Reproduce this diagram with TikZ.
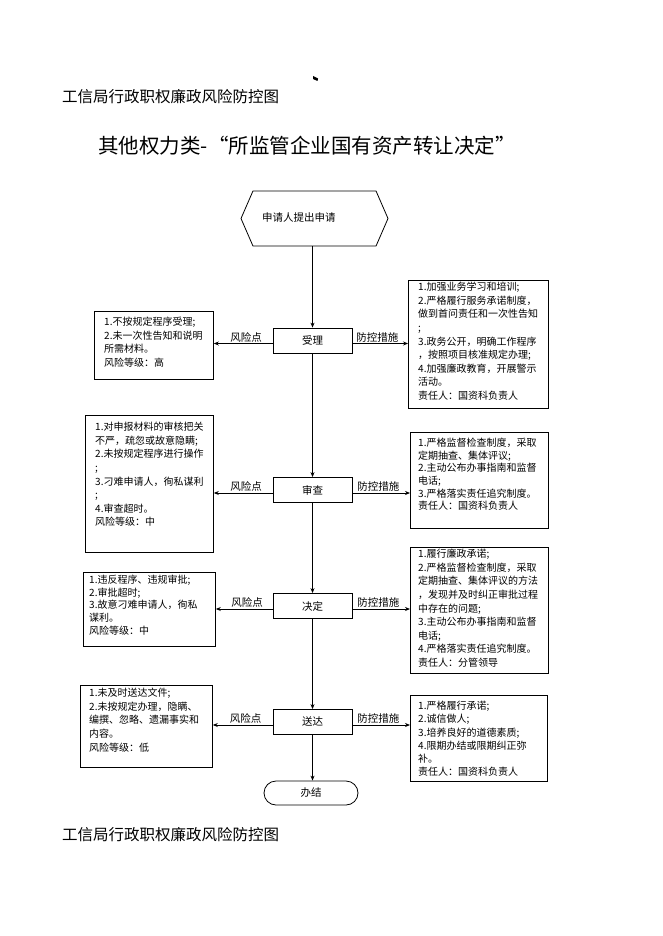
\documentclass[tikz,border=0pt]{standalone}
\usepackage{fontspec}
\setmainfont{Noto Sans CJK SC}
\usetikzlibrary{arrows.meta,shapes.symbols}
\tikzset{
  arr/.style={-{Stealth[length=5pt,width=4pt]}, line width=0.8pt},
  proc/.style={draw, line width=0.8pt, minimum width=79pt, minimum height=25pt, inner sep=0pt, font=\fontsize{10.5}{12}\selectfont},
  box/.style={draw, line width=0.8pt, anchor=north west, inner sep=0pt},
  txt/.style={anchor=north west, align=left, inner sep=0pt, font=\fontsize{10}{13.6}\selectfont},
  lab/.style={font=\fontsize{10.5}{12}\selectfont, inner sep=1pt}
}
\begin{document}
\begin{tikzpicture}[x=1pt,y=-1pt]
\useasboundingbox (0,0) rectangle (662,936);
% tiny mark
\fill (313,76) -- (318,78.5) -- (317.5,81) -- (313,79) -- cycle;
\node[anchor=west, inner sep=0pt, font=\fontsize{15.5}{18}\selectfont] (hdr) at (62,97) {工信局行政职权廉政风险防控图};
\node[inner sep=0pt, font=\fontsize{20.5}{24}\selectfont] (title) at (307,146) {其他权力类-“所监管企业国有资产转让决定”};

% start
\node[draw, line width=0.8pt, shape=signal, signal to=west and east, signal pointer angle=133, minimum width=147pt, minimum height=55pt, inner sep=0pt] (s) at (314.5,218.5) {};
\node[anchor=west, inner sep=0pt, font=\fontsize{10.5}{12}\selectfont] (stxt) at (262,218) {申请人提出申请};

% process
\node[proc] (p1) at (312.5,340.5) {受理};
\node[proc] (p2) at (312.5,490) {审查};
\node[proc] (p3) at (312.5,606) {决定};
\node[proc] (p4) at (312.5,722) {送达};
\node[draw, line width=0.8pt, rounded corners=12pt, minimum width=94pt, minimum height=24pt, inner sep=0pt, font=\fontsize{10.5}{12}\selectfont] (end) at (311,793) {办结};

% left boxes
\node[box, minimum width=119pt, minimum height=68pt] (l1) at (94,311) {};
\node[txt] (l1t) at (104,317) {1.不按规定程序受理;\\2.未一次性告知和说明\\所需材料。\\风险等级：高};
\node[box, minimum width=128pt, minimum height=137pt] (l2) at (85,415) {};
\node[txt] (l2t) at (95,422) {1.对申报材料的审核把关\\不严，疏忽或故意隐瞒;\\2.未按规定程序进行操作\\;\\3.刁难申请人，徇私谋利\\;\\4.审查超时。\\风险等级：中};
\node[box, minimum width=132pt, minimum height=74pt] (l3) at (83,572) {};
\node[txt, font=\fontsize{10}{12.6}\selectfont] (l3t) at (89,575) {1.违反程序、违规审批;\\2.审批超时;\\3.故意刁难申请人，徇私\\谋利。\\风险等级：中};
\node[box, minimum width=132pt, minimum height=82pt] (l4) at (80,685) {};
\node[txt] (l4t) at (89,688) {1.未及时送达文件;\\2.未按规定办理，隐瞒、\\编撰、忽略、遗漏事实和\\内容。\\风险等级：低};

% right boxes
\node[box, minimum width=140pt, minimum height=128pt] (r1) at (408,280) {};
\node[txt] (r1t) at (418,282) {1.加强业务学习和培训;\\2.严格履行服务承诺制度，\\做到首问责任和一次性告知\\;\\3.政务公开，明确工作程序\\，按照项目核准规定办理;\\4.加强廉政教育，开展警示\\活动。\\责任人：国资科负责人};
\node[box, minimum width=138pt, minimum height=96pt] (r2) at (410,432) {};
\node[txt, font=\fontsize{10}{12.6}\selectfont] (r2t) at (418,438) {1.严格监督检查制度，采取\\定期抽查、集体评议;\\2.主动公布办事指南和监督\\电话;\\3.严格落实责任追究制度。\\责任人：国资科负责人};
\node[box, minimum width=138pt, minimum height=126pt] (r3) at (410,547) {};
\node[txt] (r3t) at (418,549) {1.履行廉政承诺;\\2.严格监督检查制度，采取\\定期抽查、集体评议的方法\\，发现并及时纠正审批过程\\中存在的问题;\\3.主动公布办事指南和监督\\电话;\\4.严格落实责任追究制度。\\责任人：分管领导};
\node[box, minimum width=137pt, minimum height=86pt] (r4) at (410,695) {};
\node[txt, font=\fontsize{10}{13.2}\selectfont] (r4t) at (418,701) {1.严格履行承诺;\\2.诚信做人;\\3.培养良好的道德素质;\\4.限期办结或限期纠正弥\\补。\\责任人：国资科负责人};

\node[anchor=west, inner sep=0pt, font=\fontsize{15.5}{18}\selectfont] (ftr) at (62,835) {工信局行政职权廉政风险防控图};

% main flow
\draw[arr] (p1.north |- s.south) -- (p1.north);
\draw[arr] (p1.south) -- (p2.north);
\draw[arr] (p2.south) -- (p3.north);
\draw[arr] (p3.south) -- (p4.north);
\draw[arr] (p4.south) -- (p4.south |- end.north);

% side arrows
\foreach \i in {1,2,3,4}{
  \coordinate (a\i) at ([yshift=-3pt]p\i.west);
  \coordinate (b\i) at ([yshift=-3pt]p\i.east);
  \draw[arr] (a\i) -- node[lab, above, pos=0.45] {风险点} (a\i -| l\i.east);
  \draw[arr] (b\i) -- node[lab, above, pos=0.45] {防控措施} (b\i -| r\i.west);
}
\end{tikzpicture}
\end{document}
